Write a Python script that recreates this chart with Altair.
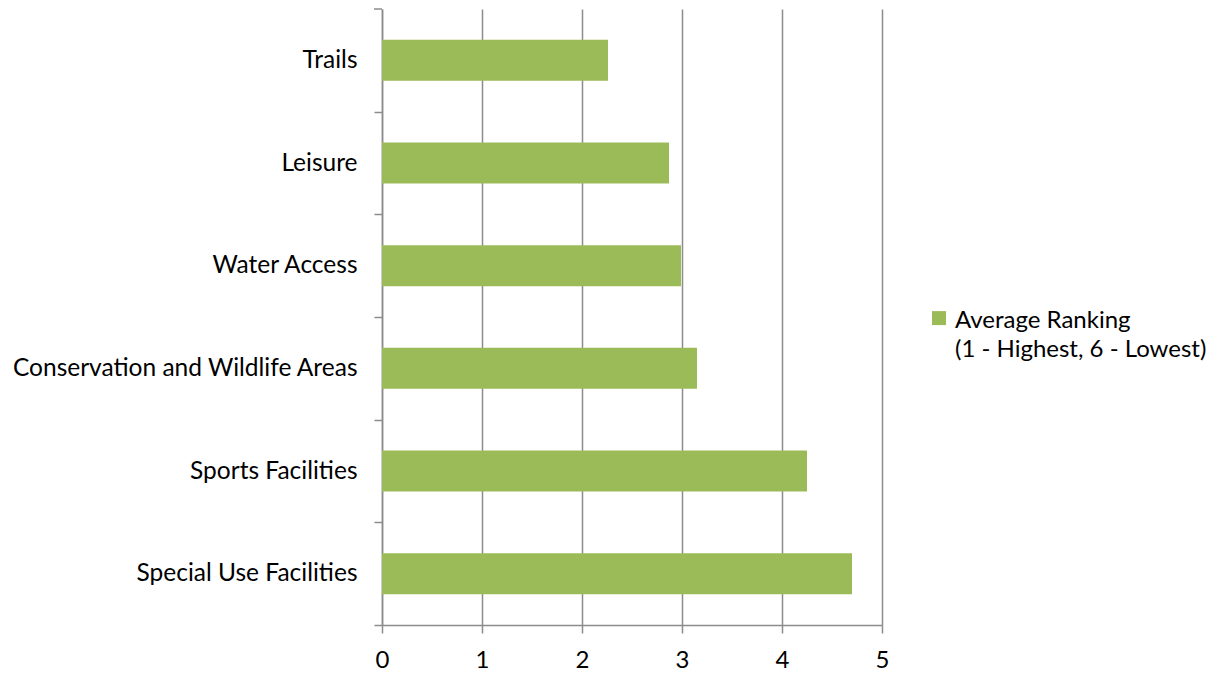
import altair as alt
import pandas as pd

categories = ["Trails", "Leisure", "Water Access", "Conservation and Wildlife Areas",
              "Sports Facilities", "Special Use Facilities"]
values = [2.26, 2.87, 2.99, 3.15, 4.25, 4.70]
series_name = "Average Ranking|(1 - Highest, 6 - Lowest)"
x_ticks = [0, 1, 2, 3, 4, 5]

df = pd.DataFrame({"category": categories, "value": values, "series": [series_name] * len(categories)})

H = 616
W = 500
step = H / len(categories)
FONT = "Lato"
FS = 24
GRAY = "#8c8c8c"

bars = alt.Chart(df).mark_bar(color="#9BBB59").encode(
    y=alt.Y("category:N", sort=categories, title=None,
            scale=alt.Scale(paddingInner=0.6, paddingOuter=0.3),
            axis=alt.Axis(tickSize=8, tickOffset=step / 2, labelOffset=-step / 2,
                          labelPadding=17, labelFontSize=24.5, labelFont=FONT,
                          labelLineHeight=24, labelColor="#000000", domainColor=GRAY,
                          tickColor=GRAY, domainWidth=1.5, tickWidth=1.5, grid=False,
                          labelLimit=500)),
    x=alt.X("value:Q", title=None,
            scale=alt.Scale(domain=[0, 5], nice=False, zero=True),
            axis=alt.Axis(values=x_ticks, tickSize=8, labelPadding=15, labelFontSize=FS,
                          labelFont=FONT, labelLineHeight=20, labelFlush=False,
                          labelColor="#000000", domainColor=GRAY,
                          tickColor=GRAY, domainWidth=1.5, tickWidth=1.5, grid=True,
                          gridColor=GRAY, gridWidth=1.5, format="d")),
    color=alt.Color("series:N", scale=alt.Scale(range=["#9BBB59"]), title=None,
                    legend=alt.Legend(orient="none", legendX=545, legendY=288,
                                      symbolType="M-1,0.3H1V2.3H-1Z", symbolSize=196,
                                      symbolStrokeWidth=0, labelFontSize=FS, labelFont=FONT,
                                      labelColor="#000000", labelLimit=400, padding=0,
                                      labelExpr="split(datum.label, '|')",
                                      labelBaseline="top", labelOffset=4)),
)

top_tick = alt.Chart(pd.DataFrame({"t": [0]})).mark_rule(color=GRAY, strokeWidth=1.5).encode(
    x=alt.value(-8), x2=alt.value(0), y=alt.value(0)
)

chart = alt.layer(bars, top_tick).properties(
    width=W, height=H, padding={"left": 3, "top": 0, "right": 0, "bottom": 0}
).configure(style={"guide-label": {"lineHeight": 29}}).configure_view(stroke=None)

chart.save("out.html", embed_options={"renderer": "svg", "actions": False})
